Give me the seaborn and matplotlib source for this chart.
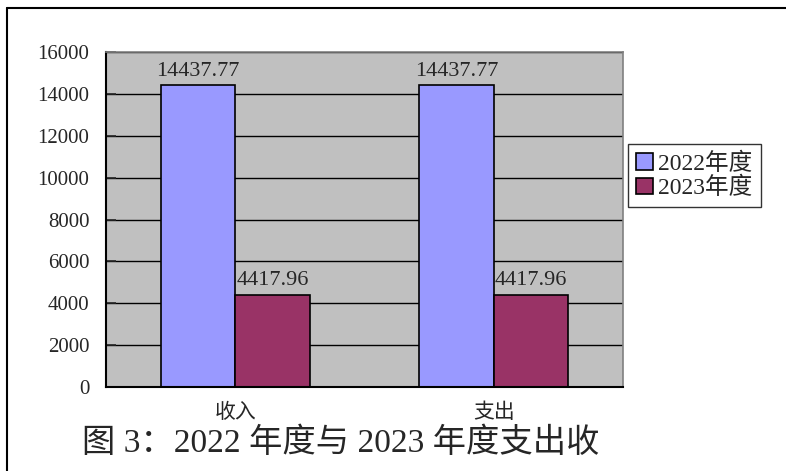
import pandas as pd
import seaborn as sns
import matplotlib.pyplot as plt
from matplotlib.lines import Line2D

# Données
categories = ['收入', '支出']
annees = ['2022年度', '2023年度']
valeurs_2022 = [14437.77, 14437.77]
valeurs_2023 = [4417.96, 4417.96]
yticks = [0, 2000, 4000, 6000, 8000, 10000, 12000, 14000, 16000]
legende = '图 3：2022 年度与 2023 年度支出收'

df = pd.DataFrame({
    '项目': categories * 2,
    '年度': [annees[0]] * 2 + [annees[1]] * 2,
    '金额': valeurs_2022 + valeurs_2023,
})

sns.set_style('white')
plt.rcParams['font.family'] = ['Liberation Serif', 'Noto Sans CJK SC', 'DejaVu Sans']

fig = plt.figure(figsize=(7.86, 4.71), dpi=100)
ax = fig.add_axes([0.1349, 0.1783, 0.6578, 0.7113])
ax.set_facecolor('#C0C0C0')

sns.barplot(data=df, x='项目', y='金额', hue='年度', order=categories, hue_order=annees,
            palette=['#9999FF', '#993366'], width=0.575, edgecolor='black',
            linewidth=1.2, saturation=1, ax=ax)

for cont in ax.containers:
    ax.bar_label(cont, fmt='%.2f', padding=3, fontsize=16)

ax.set_ylim(0, 16000)
ax.set_xlim(-0.5, 1.5)
ax.set_yticks(yticks)
ax.yaxis.grid(True, color='black', linewidth=1)
ax.set_axisbelow(True)
ax.tick_params(axis='y', direction='in', length=7, width=1.2, pad=12, labelsize=15, left=True)
ax.tick_params(axis='x', which='major', length=0, pad=12, labelsize=15)
ax.set_xticks([0.5], minor=True)
ax.tick_params(axis='x', which='minor', direction='in', length=6, width=1)
ax.set_xlabel('')
ax.set_ylabel('')

for s in ['left', 'bottom']:
    ax.spines[s].set_color('black')
    ax.spines[s].set_linewidth(1.5)
for s in ['top', 'right']:
    ax.spines[s].set_color('#808080')
    ax.spines[s].set_linewidth(1.2)

leg = ax.legend(loc='upper left', bbox_to_anchor=(1.0097, 0.7254), fontsize=17, frameon=True,
                fancybox=False, edgecolor='black', handlelength=0.72, handleheight=0.72,
                handletextpad=0.2, borderpad=0.35, labelspacing=0.1, borderaxespad=0)
leg.get_frame().set_linewidth(1)

fig.text(0.104, 0.058, legende, fontsize=24, ha='left', va='center')

# Cadre (haut et gauche)
fig.add_artist(Line2D([7 / 786, 1], [1 - 8 / 471, 1 - 8 / 471], color='black', linewidth=1.5))
fig.add_artist(Line2D([7 / 786, 7 / 786], [0, 1 - 8 / 471], color='black', linewidth=1.5))

plt.savefig('out.png', dpi=100)
